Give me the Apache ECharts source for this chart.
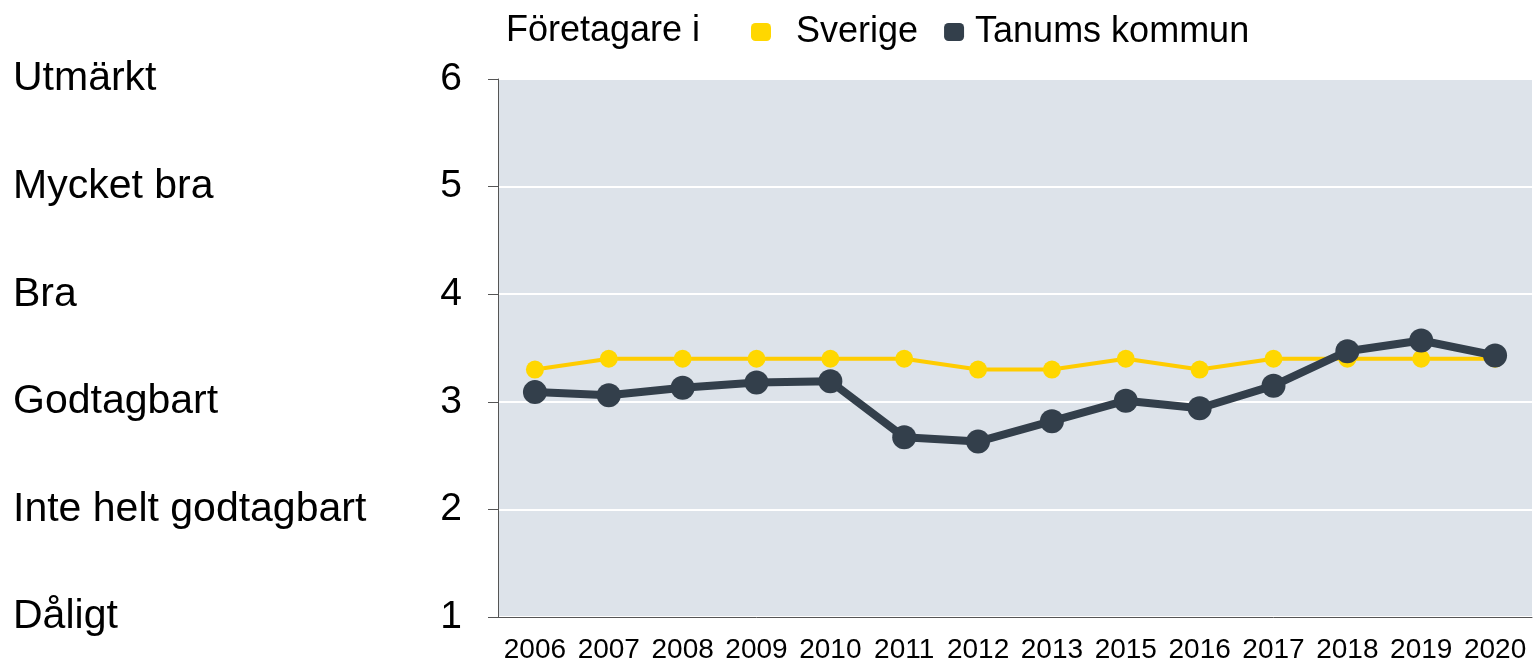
<!DOCTYPE html>
<html>
<head>
    <meta charset="UTF-8">
    <title>Företagare i Sverige / Tanums kommun</title>
    <script src="https://cdn.jsdelivr.net/npm/echarts@6/dist/echarts.min.js"></script>
    <style>
        html, body { margin: 0; padding: 0; background: #fff; }
        #main { width: 1534px; height: 664px; }
    </style>
</head>
<body>
<div id="main"></div>
<script type="text/javascript">
    var years = ['2006', '2007', '2008', '2009', '2010', '2011', '2012', '2013', '2015', '2016', '2017', '2018', '2019', '2020'];
    var sverige = [3.3, 3.4, 3.4, 3.4, 3.4, 3.4, 3.3, 3.3, 3.4, 3.3, 3.4, 3.4, 3.4, 3.4];
    var tanum = [3.09, 3.06, 3.13, 3.18, 3.19, 2.67, 2.63, 2.82, 3.01, 2.94, 3.15, 3.47, 3.57, 3.43];
    // betygsskala, index 0 = värde 1
    var grades = ['Dåligt', 'Inte helt godtagbart', 'Godtagbart', 'Bra', 'Mycket bra', 'Utmärkt'];

    var myChart = echarts.init(document.getElementById('main'));
    var font = 'Liberation Sans, Arial, sans-serif';

    var option = {
        animation: false,
        textStyle: { fontFamily: font },
        title: {
            text: 'Företagare i',
            left: 501, top: 8,
            textStyle: { fontSize: 36, fontWeight: 'normal', color: '#000', fontFamily: font }
        },
        legend: {
            left: 746, top: 9,
            itemWidth: 20, itemHeight: 18, itemGap: 26,
            icon: 'roundRect',
            textStyle: { fontSize: 36, color: '#000', fontFamily: font },
            data: [
                { name: 'Sverige', textStyle: { padding: [0, 0, 0, 20] } },
                { name: 'Tanums kommun', textStyle: { padding: [0, 0, 0, 6] } }
            ]
        },
        grid: {
            left: 498, right: 2, top: 79, bottom: 44,
            show: true, backgroundColor: '#DDE3EA', borderWidth: 0
        },
        xAxis: {
            type: 'category',
            data: years,
            boundaryGap: true,
            axisLine: { lineStyle: { color: '#555', width: 1 } },
            axisTick: { length: 8, lineStyle: { color: '#555' } },
            axisLabel: { fontSize: 28, color: '#000', margin: 19, interval: 0, fontFamily: font }
        },
        yAxis: [{
            type: 'value', min: 1, max: 6, interval: 1,
            axisLine: { show: true, lineStyle: { color: '#555' } },
            axisTick: { show: true, length: 10, lineStyle: { color: '#555' } },
            splitLine: { lineStyle: { color: '#fff', width: 2 } },
            axisLabel: { fontSize: 39, color: '#000', margin: 36, fontFamily: font }
        }, {
            type: 'value', min: 1, max: 6, interval: 1, position: 'left',
            axisLine: { show: false }, axisTick: { show: false }, splitLine: { show: false },
            axisLabel: {
                fontSize: 41, color: '#000', align: 'left', margin: 485, fontFamily: font,
                formatter: function (v) { return grades[v - 1] || ''; }
            }
        }],
        series: [{
            name: 'Sverige',
            type: 'line',
            data: sverige,
            color: '#FFCC00',
            lineStyle: { width: 4, color: '#FFCC00' },
            symbol: 'circle', symbolSize: 18,
            itemStyle: { color: '#FFD700' },
            z: 2
        }, {
            name: 'Tanums kommun',
            type: 'line',
            data: tanum,
            color: '#333F4B',
            lineStyle: { width: 8, color: '#333F4B' },
            symbol: 'circle', symbolSize: 24,
            itemStyle: { color: '#333F4B' },
            z: 3
        }]
    };

    myChart.setOption(option);
</script>
</body>
</html>
